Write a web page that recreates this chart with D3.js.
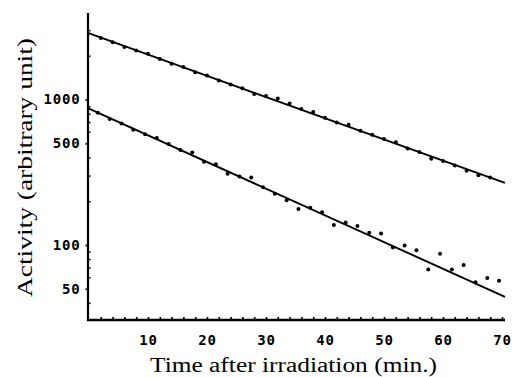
<!DOCTYPE html>
<html>
<head>
<meta charset="utf-8">
<script src="https://cdn.jsdelivr.net/npm/d3@7"></script>
<style>
  body { margin: 0; background: #fff; }
  .tick text { font-family: "DejaVu Sans Mono", monospace; font-weight: bold; font-size: 14px; letter-spacing: 0.8px; fill: #000; }
  .title { font-family: "Liberation Serif", serif; font-size: 20px; fill: #000; }
</style>
</head>
<body>
<svg id="chart" width="515" height="377"></svg>
<script>
// upper series (counts)
const upperTimes = [2, 4, 6, 8, 10, 12, 14, 16, 18, 20, 22, 24, 26, 28, 30, 32, 34,
  36, 38, 40, 42, 44, 46, 48, 50, 52, 54, 56, 58, 60, 62, 64, 66, 68]
const upperActivity = [2650, 2470, 2300, 2170, 2060, 1900, 1760, 1670, 1540, 1460, 1350,
  1270, 1195, 1090, 1055, 1015, 940, 860, 820, 750, 695, 670, 610, 572, 535, 508, 460,
  436, 392, 378, 352, 324, 302, 291]

// lower series
const lowerTimes = [1.5, 3.5, 5.5, 7.5, 9.5, 11.5, 13.5, 15.5, 17.5, 19.5, 21.5, 23.5,
  25.5, 27.5, 29.5, 31.5, 33.5, 35.5, 37.5, 39.5, 41.5, 43.5, 45.5, 47.5, 49.5, 51.5,
  53.5, 55.5, 57.5, 59.5, 61.5, 63.5, 65.5, 67.5, 69.5]
const lowerActivity = [810, 735, 684, 620, 578, 544, 494, 449, 432, 374, 359, 309, 296,
  291, 249, 225, 203, 177, 180, 168, 137, 143, 135, 121.5, 120, 96, 99, 92, 67.7, 87.2,
  67.7, 72.8, 55.5, 59.3, 56.8]

// fitted decay lines (end points)
const upperFitTimes = [-0.2, 70.5]
const upperFitActivity = [2870, 267]
const lowerFitTimes = [-0.2, 70.5]
const lowerFitActivity = [874, 44]

// ticks
const xTickValues = [10, 20, 30, 40, 50, 60, 70]
const xMinorTicks = d3.range(2, 71, 2)
const yTickValues = [50, 100, 500, 1000]
const yMinorTicks = [40, 60, 70, 80, 90, 200, 300, 400, 600, 700, 800, 900, 2000, 3000]

const svg = d3.select('#chart')

const x = d3.scaleLinear().domain([0, 70]).range([89, 502])
const y = d3.scaleLog().domain([30.5, 3932]).range([320, 13])

// x axis: minor tick marks pointing inward
svg.append('g')
    .attr('transform', 'translate(0,320)')
    .call(d3.axisBottom(x).tickValues(xMinorTicks).tickSizeInner(-3).tickSizeOuter(0).tickFormat(''))
    .call(g => g.select('.domain').remove())
    .call(g => g.selectAll('.tick line').attr('stroke-width', 1.6))

// x axis labels
svg.append('g')
    .attr('transform', 'translate(0,320)')
    .call(d3.axisBottom(x).tickValues(xTickValues).tickSize(0).tickPadding(15).tickFormat(d3.format('d')))
    .call(g => g.select('.domain').remove())

// y axis minor ticks
svg.append('g')
    .attr('transform', 'translate(88,0)')
    .call(d3.axisLeft(y).tickValues(yMinorTicks).tickSizeInner(-2.5).tickSizeOuter(0).tickFormat(''))
    .call(g => g.select('.domain').remove())
    .call(g => g.selectAll('.tick line').attr('stroke-width', 1.5))

// y axis labels + major ticks
svg.append('g')
    .attr('transform', 'translate(88,0)')
    .call(d3.axisLeft(y).tickValues(yTickValues).tickSize(2.5).tickPadding(5).tickFormat(d3.format('d')))
    .call(g => g.select('.domain').remove())
    .call(g => g.selectAll('.tick line').attr('stroke-width', 1.8))

// axis lines
svg.append('line')
    .attr('x1', 88).attr('x2', 88).attr('y1', 13).attr('y2', 321)
    .attr('stroke', '#000').attr('stroke-width', 2.2)
svg.append('line')
    .attr('x1', 87).attr('x2', 505).attr('y1', 320).attr('y2', 320)
    .attr('stroke', '#000').attr('stroke-width', 2.6)

const line = d3.line()
    .x(d => x(d[0]))
    .y(d => y(d[1]))

svg.append('path')
    .datum(d3.zip(upperFitTimes, upperFitActivity))
    .attr('d', line)
    .attr('fill', 'none').attr('stroke', '#000').attr('stroke-width', 1.9)

svg.append('path')
    .datum(d3.zip(lowerFitTimes, lowerFitActivity))
    .attr('d', line)
    .attr('fill', 'none').attr('stroke', '#000').attr('stroke-width', 1.9)

svg.append('g')
    .selectAll('circle')
    .data(d3.zip(upperTimes, upperActivity).concat(d3.zip(lowerTimes, lowerActivity)))
    .join('circle')
    .attr('cx', d => x(d[0]))
    .attr('cy', d => y(d[1]))
    .attr('r', 2)
    .attr('fill', '#000')

// titles
svg.append('text')
    .attr('class', 'title')
    .attr('x', 293.5).attr('y', 372)
    .attr('text-anchor', 'middle')
    .attr('textLength', 287).attr('lengthAdjust', 'spacingAndGlyphs')
    .text('Time after irradiation (min.)')

svg.append('text')
    .attr('class', 'title')
    .attr('transform', 'translate(32,167.5) rotate(-90)')
    .attr('text-anchor', 'middle')
    .attr('textLength', 259).attr('lengthAdjust', 'spacingAndGlyphs')
    .text('Activity (arbitrary unit)')
</script>
</body>
</html>
